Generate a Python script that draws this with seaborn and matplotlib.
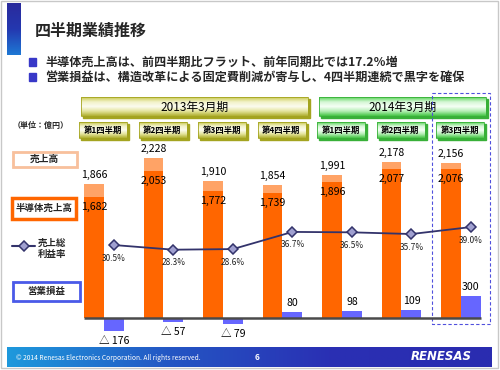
import numpy as np
import pandas as pd
import seaborn as sns
import matplotlib.pyplot as plt
from matplotlib.colors import to_rgb
from matplotlib.patches import Rectangle

# --- data ---
fiscal_years = ["2013年3月期", "2014年3月期"]
quarters = ["第1四半期", "第2四半期", "第3四半期", "第4四半期", "第1四半期", "第2四半期", "第3四半期"]
year_idx = [0, 0, 0, 0, 1, 1, 1]
sales = [1866, 2228, 1910, 1854, 1991, 2178, 2156]          # 売上高
semi_sales = [1682, 2053, 1772, 1739, 1896, 2077, 2076]     # 半導体売上高
op_income = [-176, -57, -79, 80, 98, 109, 300]              # 営業損益
gross_margin = [30.5, 28.3, 28.6, 36.7, 36.5, 35.7, 39.0]   # 売上総利益率 (%)
title = "四半期業績推移"
bullets = ["半導体売上高は、前四半期比フラット、前年同期比では17.2％増",
           "営業損益は、構造改革による固定費削減が寄与し、4四半期連続で黒字を確保"]
unit_label = "（単位：億円）"
footer = "© 2014 Renesas Electronics Corporation. All rights reserved."
page_no = "6"

ORANGE_LIGHT = "#ffa366"
ORANGE = "#ff6600"
BLUE_BAR = "#6666ff"
NAVY = "#33336b"

sns.set_style("white")
plt.rcParams["font.family"] = ["Noto Sans CJK JP", "DejaVu Sans"]

W, H = 500, 370
fig = plt.figure(figsize=(5, 3.7), dpi=100, facecolor="white")

# background axes in pixel coordinates for the slide decoration
deco = fig.add_axes([0, 0, 1, 1], zorder=0)
deco.set_xlim(0, W)
deco.set_ylim(H, 0)
deco.axis("off")


def gradient(ax, x0, y0, x1, y1, colors, horizontal=False, z=1):
    t = np.linspace(0, 1, 64)
    s = np.linspace(0, 1, len(colors))
    c = np.array([to_rgb(h) for h in colors])
    arr = np.stack([np.interp(t, s, c[:, k]) for k in range(3)], axis=-1)
    img = arr[None, :, :] if horizontal else arr[:, None, :]
    ax.imshow(img, extent=(x0, x1, y1, y0), aspect="auto", interpolation="bilinear", zorder=z)


def bevel_box(ax, x0, y0, x1, y1, colors, shadow, text, size, weight="bold"):
    ax.add_patch(Rectangle((x0 + 2, y0 + 2), x1 - x0, y1 - y0, color=shadow, zorder=1))
    gradient(ax, x0, y0, x1, y1, colors, z=2)
    ax.add_patch(Rectangle((x0, y0), x1 - x0, y1 - y0, fill=False, ec=shadow, lw=0.6, zorder=3))
    ax.text((x0 + x1) / 2, (y0 + y1) / 2 + 0.5, text, ha="center", va="center",
            fontsize=size, fontweight=weight, color="black", zorder=4)


# slide frame, title, bullets
deco.add_patch(Rectangle((1, 1), W - 3, H - 3, fill=False, ec="#c8c8c8", lw=1))
gradient(deco, 7, 3, 21, 55, ["#2a2a9c", "#2438b0", "#1e78d4"])
deco.text(35, 31, title, fontsize=11.5, fontweight="bold", va="center")
for k, line in enumerate(bullets):
    y = 62 + 15 * k
    deco.add_patch(Rectangle((28.5, y - 4), 7.5, 7.5, color="#3838c8"))
    deco.text(45, y, line, fontsize=8.7, fontweight="bold", va="center")

# footer band
gradient(deco, 7, 347, 492, 367, ["#1e98dc", "#2456c4", "#2a30b4", "#2a2cb0"], horizontal=True)
deco.text(16, 357.5, footer, fontsize=4.8, color="white", va="center")
deco.text(257, 357.5, page_no, fontsize=6, color="white", fontweight="bold", va="center", ha="center")
deco.text(441, 357, "RENESAS", fontsize=8.5, color="white", fontweight="bold",
          fontstyle="italic", va="center", ha="center", family="DejaVu Sans")

# headers: fiscal years and quarter boxes
AX_LEFT, CAT_PX = 74.25, 59.5
centers_px = [AX_LEFT + CAT_PX * (i + 0.5) for i in range(len(quarters))]
year_styles = [
    (["#c8c850", "#f2f2c8", "#fcfcf0", "#e4e49c", "#b0b030"], "#a4a420"),
    (["#5cd45c", "#d4f6d4", "#f6fff6", "#b4eeb4", "#44c444"], "#38b038"),
]
BOX_HALF = 25
for y, fy in enumerate(fiscal_years):
    idx = [i for i, v in enumerate(year_idx) if v == y]
    cols, shadow = year_styles[y]
    bevel_box(deco, centers_px[idx[0]] - BOX_HALF + 2, 97, centers_px[idx[-1]] + BOX_HALF, 116,
              cols, shadow, fy, 8.5, weight="normal")
    for i in idx:
        bevel_box(deco, centers_px[i] - BOX_HALF, 122, centers_px[i] + BOX_HALF - 2, 138,
                  cols, shadow, quarters[i], 6)

# left legend
deco.text(13, 125, unit_label, fontsize=5.8, fontweight="bold", va="center")
deco.add_patch(Rectangle((12.5, 151.5), 64, 15, fc="white", ec="#f8c09c", lw=2))
deco.text(44.5, 159, "売上高", fontsize=7, fontweight="bold", ha="center", va="center")
deco.add_patch(Rectangle((12, 197.5), 64, 21, fc="white", ec=ORANGE, lw=2.5))
deco.text(44, 208, "半導体売上高", fontsize=6.8, fontweight="bold", ha="center", va="center")
deco.plot([12, 35], [246, 246], color=NAVY, lw=1.5)
deco.plot([23.5], [246], marker="D", ms=5, mfc="#a0a0d0", mec=NAVY, mew=1.1)
deco.text(38, 242.5, "売上総", fontsize=6.8, fontweight="bold", va="center")
deco.text(38, 254, "利益率", fontsize=6.8, fontweight="bold", va="center")
deco.add_patch(Rectangle((12.5, 281.5), 67, 19.5, fc="white", ec="#4a5ae8", lw=2))
deco.text(46, 291, "営業損益", fontsize=6.8, fontweight="bold", ha="center", va="center")

# dashed highlight around the latest quarter
deco.add_patch(Rectangle((432, 93), 58, 231, fill=False, ec="#5050dd", lw=0.8,
                         ls=(0, (3, 2)), zorder=5))

# --- chart ---
AX_BOTTOM, AX_TOP = 345, 140
pos = [AX_LEFT / W, (H - AX_BOTTOM) / H, CAT_PX * len(quarters) / W, (AX_BOTTOM - AX_TOP) / H]
ax = fig.add_axes(pos, zorder=2)
ax.patch.set_alpha(0)
keys = [fiscal_years[y] + q for y, q in zip(year_idx, quarters)]
n = len(keys)
series = ["売上高"] * n + ["営業損益"] * n
bars = pd.DataFrame({"key": keys * 2, "series": series, "value": sales + op_income})
semi = pd.DataFrame({"key": keys * 2, "series": series, "value": semi_sales + [0] * n})

WIDTH = 0.672
order = ["売上高", "営業損益"]
sns.barplot(data=bars, x="key", y="value", hue="series", hue_order=order,
            palette=[ORANGE_LIGHT, BLUE_BAR], width=WIDTH, saturation=1,
            linewidth=0, errorbar=None, legend=False, ax=ax)
sns.barplot(data=semi, x="key", y="value", hue="series", hue_order=order,
            palette=[ORANGE, BLUE_BAR], width=WIDTH, saturation=1,
            linewidth=0, errorbar=None, legend=False, ax=ax)
half = WIDTH / 2
off = WIDTH / 4
ax.hlines(0, -half, n - 1 + half, color="#4a4a4a", lw=1.8, zorder=5)
ax.set_xlim(-0.5, n - 0.5)
ax.set_ylim(-376, 2480)
ax.axis("off")

lbl = dict(ha="center", va="center", textcoords="offset pixels", fontsize=7.6, color="black")
for i in range(n):
    ax.annotate(f"{sales[i]:,}", (i - off, sales[i]), xytext=(0, 9), **lbl)
    ax.annotate(f"{semi_sales[i]:,}", (i - off, semi_sales[i]), xytext=(0, -10), **lbl)
    if op_income[i] >= 0:
        ax.annotate(f"{op_income[i]}", (i + off, op_income[i]), xytext=(0, 9), **lbl)
    else:
        ax.annotate(f"△ {abs(op_income[i])}", (i + off, op_income[i]), xytext=(0, -10), **lbl)

# gross margin on its own scale
ax2 = fig.add_axes(pos, zorder=3)
ax2.patch.set_alpha(0)
xm = np.arange(n) + off
sns.lineplot(x=xm, y=gross_margin, ax=ax2, color=NAVY, lw=1.3, marker="D",
             markersize=5, markerfacecolor="#a0a0d0", markeredgecolor=NAVY, markeredgewidth=1.1)
ax2.set_xlim(-0.5, n - 0.5)
ax2.set_ylim(-16.7, 80.1)
ax2.axis("off")
for x, m in zip(xm, gross_margin):
    ax2.annotate(f"{m:.1f}%", (x, m), xytext=(0, -13), ha="center", va="center",
                 textcoords="offset pixels", fontsize=6, color="#222222")

fig.savefig("out.png", dpi=100, facecolor="white")
